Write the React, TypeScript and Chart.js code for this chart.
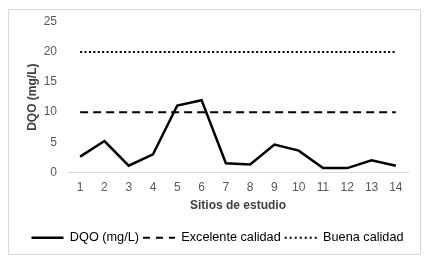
import React, { useEffect, useRef } from "react";
import { Chart, registerables } from "chart.js";

Chart.register(...registerables);

const sites = ["1", "2", "3", "4", "5", "6", "7", "8", "9", "10", "11", "12", "13", "14"];
const dqo = [2.6, 5.2, 1.1, 3.0, 11.1, 12.0, 1.5, 1.3, 4.6, 3.6, 0.7, 0.7, 2.0, 1.1];
const excelente = [10, 10, 10, 10, 10, 10, 10, 10, 10, 10, 10, 10, 10, 10];
const buena = [20, 20, 20, 20, 20, 20, 20, 20, 20, 20, 20, 20, 20, 20];
const yTicks = [0, 5, 10, 15, 20, 25];

const FONT = "'Liberation Sans', Arial, sans-serif";

const legendShift = {
  id: "legendShift",
  afterLayout(chart: any) {
    if (chart.legend) {
      chart.legend.left += 3;
      chart.legend.right += 3;
    }
  },
};

export default function App() {
  const ref = useRef<HTMLCanvasElement | null>(null);
  useEffect(() => {
    if (!ref.current) return;
    const chart = new Chart(ref.current, {
      type: "line",
      plugins: [legendShift],
      data: {
        labels: sites,
        datasets: [
          {
            label: "DQO (mg/L)",
            data: dqo,
            borderColor: "#000000",
            backgroundColor: "#000000",
            borderWidth: 2.5,
            pointRadius: 0,
            tension: 0,
          },
          {
            label: "Excelente calidad",
            data: excelente,
            borderColor: "#000000",
            backgroundColor: "#000000",
            borderWidth: 2,
            borderDash: [8, 5],
            pointRadius: 0,
          },
          {
            label: "Buena calidad",
            data: buena,
            borderColor: "#000000",
            backgroundColor: "#000000",
            borderWidth: 2,
            borderDash: [2, 2.4],
            pointRadius: 0,
          },
        ],
      },
      options: {
        responsive: false,
        animation: false,
        events: [],
        layout: { padding: { left: 21, right: 24, top: 22, bottom: 10 } },
        plugins: {
          tooltip: { enabled: false },
          legend: {
            position: "bottom",
            labels: {
              usePointStyle: true,
              pointStyle: "line",
              pointStyleWidth: 32,
              boxHeight: 12,
              padding: 4,
              color: "#404040",
              font: { family: FONT, size: 12.7 },
              generateLabels: (c: any) =>
                c.data.datasets.map((ds: any, i: number) => ({
                  text: ds.label,
                  fillStyle: "#000000",
                  strokeStyle: "#000000",
                  lineWidth: ds.borderWidth,
                  lineDash: i === 1 ? [7, 6] : i === 2 ? [2, 3] : [],
                  lineCap: "butt",
                  pointStyle: "line",
                  hidden: false,
                  datasetIndex: i,
                })),
            },
          },
        },
        scales: {
          x: {
            offset: true,
            grid: { display: false, drawTicks: false },
            border: { display: true, color: "#d9d9d9", width: 1 },
            ticks: { color: "#595959", font: { family: FONT, size: 12 }, padding: 8, maxRotation: 0 },
            afterFit: (s: any) => {
              s.height = 55;
            },
            title: {
              display: true,
              text: "Sitios de estudio",
              color: "#404040",
              font: { family: FONT, size: 12, weight: "bold" },
              padding: { top: 2, bottom: 14 },
            },
          },
          y: {
            min: 0,
            max: 25,
            afterBuildTicks: (s: any) => {
              s.ticks = yTicks.map((v) => ({ value: v }));
            },
            grid: { display: false, drawTicks: false },
            border: { display: false },
            ticks: { color: "#595959", font: { family: FONT, size: 12 }, padding: 11 },
            afterFit: (s: any) => {
              s.width = 47;
            },
            title: {
              display: true,
              text: "DQO (mg/L)",
              color: "#404040",
              font: { family: FONT, size: 12, weight: "bold" },
              padding: { top: 4, bottom: 4 },
            },
          },
        },
      },
    });
    return () => chart.destroy();
  }, []);
  return (
    <div style={{ position: "fixed", left: 0, top: 0, width: 432, height: 264, background: "#fff" }}>
      <canvas ref={ref} width={432} height={264} style={{ position: "absolute", left: 0, top: 0 }} />
      <div
        style={{
          position: "absolute",
          left: 8,
          top: 9,
          width: 413,
          height: 246,
          boxSizing: "border-box",
          border: "1px solid #d9d9d9",
          pointerEvents: "none",
        }}
      />
    </div>
  );
}
